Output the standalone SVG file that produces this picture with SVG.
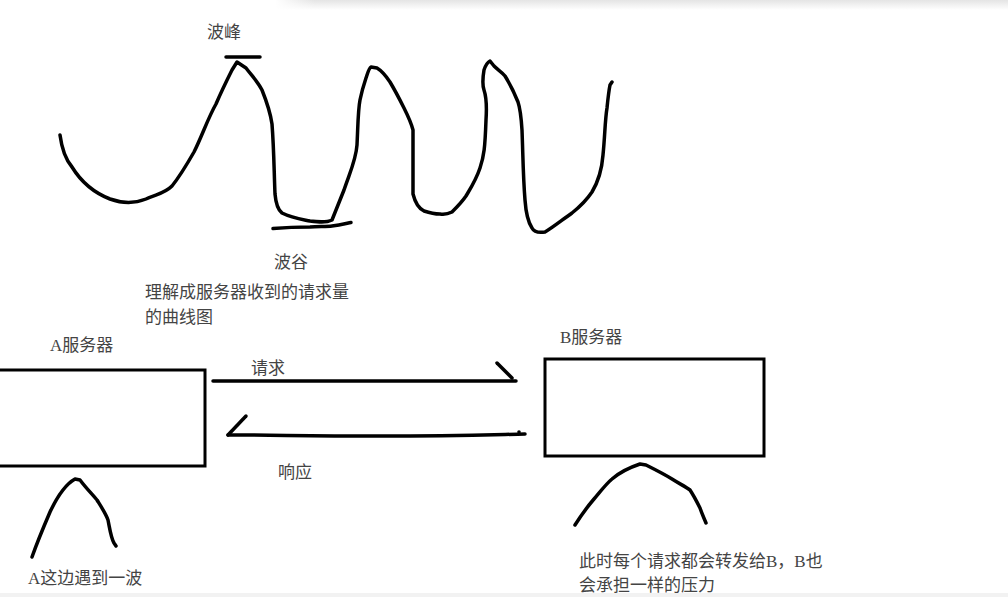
<svg xmlns="http://www.w3.org/2000/svg" width="1008" height="597" viewBox="0 0 1008 597">
<defs>
<style>
.t{font-family:"Liberation Serif","Noto Sans CJK SC",serif;font-size:17px;fill:#444}
.ink{fill:none;stroke:#000;stroke-width:3.5;stroke-linecap:round;stroke-linejoin:round}
.box{fill:#fff;stroke:#000;stroke-width:3}
</style>
<linearGradient id="shv" x1="0" y1="0" x2="0" y2="1">
<stop offset="0" stop-color="#e4e4e4"/>
<stop offset="1" stop-color="#ffffff"/>
</linearGradient>
<linearGradient id="shh" x1="0" y1="0" x2="1" y2="0">
<stop offset="0" stop-color="#ffffff" stop-opacity="1"/>
<stop offset="1" stop-color="#ffffff" stop-opacity="0"/>
</linearGradient>
</defs>
<rect width="1008" height="597" fill="#fff"/>
<g id="frame">
<rect x="275" y="0" width="733" height="10" fill="url(#shv)"/>
<rect x="275" y="0" width="40" height="10" fill="url(#shh)"/>
<rect x="0" y="593" width="1008" height="4" fill="#f2f2f2"/>
</g>
<g id="wave">
<path class="ink" d="M60,135 C62,150 66,160 72,167 C80,180 92,192 110,199 C124,204 136,203 146,199 C156,194 164,194 172,186 C180,176 186,166 194,152 C202,136 208,118 216,104 C222,90 228,78 232,70 L237,62 L246,68 C252,76 258,82 262,90 C266,100 270,110 272,124 C274,150 274,170 275,194 C276,205 278,210 282,213 C292,218 300,219 310,221 C318,222 326,223 332,220 C336,210 340,200 344,190 C350,172 356,160 357,145 C358,125 358,110 360,100 C362,90 364,84 366,78 C368,72 369,68 371,67 L377,68 C382,71 386,76 390,82 C396,92 400,100 404,108 C408,116 411,122 413,130 L413,194 C415,202 418,208 424,211 C430,213 434,214 440,214 C446,215 450,213 452,212 C458,206 462,202 466,196 C472,186 476,180 480,168 C484,156 485,148 486,120 C487,105 486,96 484,90 C482,84 483,76 484,70 C486,64 488,62 490,61 L494,66 C498,70 502,72 505,76 C510,84 514,92 518,102 C520,108 521,114 522,130 C523,155 523,175 525,200 C526,214 528,222 532,228 C534,232 538,233 545,232 C552,228 562,220 572,213 C582,205 588,198 592,192 C598,182 602,168 603,155 C605,135 605,120 607,108 C608,98 609,90 610,85 L612,82"/>
<path class="ink" d="M226,57 L260,57"/>
<path class="ink" d="M273,228.5 C285,227.5 300,227 310,227 C320,226.5 328,226.5 332,226 C340,225 346,223.5 351,222.5"/>
</g>
<g id="label-peak"><text class="t" x="207" y="38">波峰</text></g>
<g id="label-trough"><text class="t" x="274" y="268">波谷</text></g>
<g id="label-note">
<text class="t" x="145" y="298">理解成服务器收到的请求量</text>
<text class="t" x="145" y="323">的曲线图</text>
</g>
<g id="serverA">
<rect class="box" x="-10" y="370" width="215" height="96"/>
<text class="t" x="50" y="351">A服务器</text>
</g>
<g id="bumpA">
<path class="ink" d="M32,557 C38,540 44,526 50,512 C58,495 66,484 75,479 L80,480 C86,488 92,494 97,500 C102,508 106,514 108,520 C110,530 111,538 114,543 L116,546"/>
<text class="t" x="28" y="584">A这边遇到一波</text>
</g>
<g id="serverB">
<rect class="box" x="545" y="359" width="219" height="97"/>
<text class="t" x="560" y="343">B服务器</text>
</g>
<g id="bumpB">
<path class="ink" d="M575,525 C582,514 588,506 594,499 C600,492 606,484 612,479 C620,472 628,468 640,464 L646,465 C656,470 664,474 672,479 C680,484 686,487 690,490 C694,496 697,502 700,508 C702,514 704,518 706,523"/>
<text class="t" x="579" y="567">此时每个请求都会转发给B，B也</text>
<text class="t" x="579" y="591">会承担一样的压力</text>
</g>
<g id="connectors">
<path class="ink" d="M213,381 L516,381"/>
<path class="ink" d="M497,363 L512,378"/>
<path class="ink" d="M228,435 C280,435 300,436 380,436 C450,436 480,435 525,434"/>
<path class="ink" d="M228,435 L246,416"/>
<circle cx="519" cy="432" r="1.8" fill="#000"/>
<text class="t" x="251" y="374">请求</text>
<text class="t" x="278" y="478">响应</text>
</g>
</svg>
